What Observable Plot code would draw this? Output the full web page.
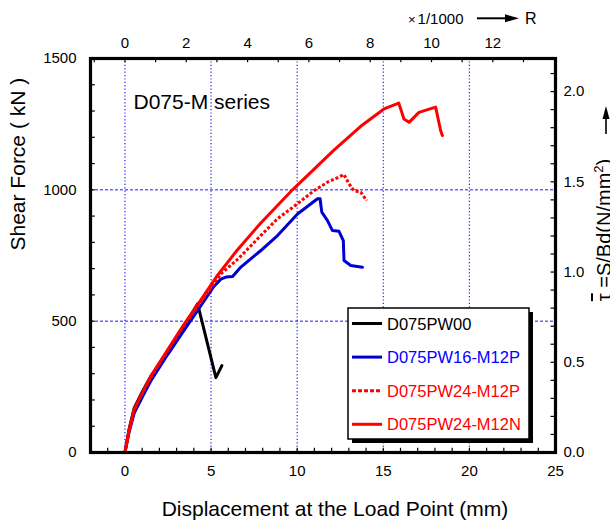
<!DOCTYPE html>
<html><head><meta charset="utf-8">
<script src="https://cdn.jsdelivr.net/npm/d3@7"></script>
<script src="https://cdn.jsdelivr.net/npm/@observablehq/plot@0.6"></script>
<style>
html,body{margin:0;padding:0;background:#fff;}
svg{font-family:"Liberation Sans",Arial,Helvetica,sans-serif;}
</style></head><body><div id="chart"></div>
<script>
// ---- data (displacement mm, shear force kN) ----
const seriesNames = ["D075PW00", "D075PW16-M12P", "D075PW24-M12P", "D075PW24-M12N"];
const seriesColors = ["#000000", "#0000d0", "#ff0000", "#ff0000"];
const seriesDash = [null, null, "3,2", null];

const pw00X = [0, 0.25, 0.54, 1.03, 1.5, 2.47, 3.4, 4.22, 5.28, 5.63];
const pw00Y = [0, 92, 170, 234, 290, 384, 476, 566, 285, 331];

const pw16X = [0, 0.25, 0.54, 1.03, 1.5, 2.47, 3.4, 4.4, 5.16, 5.57, 5.86, 6.25, 6.73, 7.89, 8.86, 10.02, 11.18, 11.33, 11.43, 11.76, 12.05, 12.43, 12.68, 12.72, 13.11, 13.79];
const pw16Y = [0, 80, 150, 214, 272, 372, 462, 558, 632, 660, 668, 670, 706, 769, 826, 908, 966, 966, 915, 883, 845, 842, 807, 731, 712, 705];

const pw24pX = [0, 0.25, 0.54, 1.03, 1.5, 2.47, 3.4, 4.4, 5.57, 6.54, 7.89, 8.86, 10.02, 10.98, 11.76, 12.72, 13.01, 13.3, 13.69, 14.04];
const pw24pY = [0, 86, 162, 227, 286, 386, 480, 572, 680, 735, 826, 890, 947, 997, 1029, 1058, 1023, 997, 991, 959];

const pw24nX = [0, 0.25, 0.54, 1.03, 1.5, 2.47, 3.4, 4.4, 5.37, 6.5, 7.89, 9.73, 12.12, 13.69, 15.04, 15.9, 16.2, 16.5, 17.07, 18.04, 18.33, 18.43];
const pw24nY = [0, 88, 165, 230, 290, 390, 485, 580, 674, 769, 874, 1000, 1150, 1242, 1308, 1330, 1270, 1257, 1295, 1315, 1226, 1207];

// ---- axis ticks ----
const xTicks = [0, 5, 10, 15, 20, 25];
const yTicks = [0, 500, 1000, 1500];
const rTicks = [0, 2, 4, 6, 8, 10, 12];     // drift R (x1/1000)
const tauTicks = [0, 0.5, 1.0, 1.5, 2.0];   // tau (N/mm2)
const xGrid = [0, 5, 10, 15, 20];
const yGrid = [500, 1000];
const mmPerR = 1.78;     // 1/1000 rad of drift in mm of displacement
const kNperTau = 687;    // 1 N/mm2 in kN

const allX = [pw00X, pw16X, pw24pX, pw24nX];
const allY = [pw00Y, pw16Y, pw24pY, pw24nY];
const rows = [];
allX.forEach((xs, s) => xs.forEach((x, i) => rows.push({series: seriesNames[s], x, y: allY[s][i]})));

const xMinor = d3.range(-1, 25, 1);
const yMinor = d3.range(100, 1500, 100);
const rMinor = d3.range(-1, 14, 1);
const tauMinor = d3.range(1, 22, 1).map(d => d / 10);

const blue = "#1a1aff";
const marks = [
  Plot.ruleX(xGrid, {x: d => d, stroke: blue, strokeWidth: 1.2, strokeDasharray: "1.2,2.2"}),
  Plot.ruleY(yGrid, {y: d => d, stroke: blue, strokeWidth: 1, strokeDasharray: "3,2"}),
  // minor ticks (inward)
  Plot.ruleX(xMinor, {x: d => d, y1: 0, y2: 16, stroke: "black", strokeWidth: 1.2}),
  Plot.ruleX(rMinor, {x: d => d * mmPerR, y1: 1500, y2: 1484, stroke: "black", strokeWidth: 1.2}),
  Plot.ruleY(yMinor, {y: d => d, x1: -2, x2: -1.72, stroke: "black", strokeWidth: 1.2}),
  Plot.ruleY(tauMinor, {y: d => d * kNperTau, x1: 25, x2: 24.74, stroke: "black", strokeWidth: 1.2}),
];
seriesNames.forEach((name, s) => {
  marks.push(Plot.line(rows.filter(r => r.series === name), {
    x: "x", y: "y", stroke: seriesColors[s], strokeWidth: 3,
    strokeDasharray: seriesDash[s] || undefined, strokeLinejoin: "round",
    strokeLinecap: seriesDash[s] ? "butt" : "round"
  }));
});
marks.push(
  Plot.frame({stroke: "black", strokeWidth: 3.2}),
  Plot.text(xTicks, {x: d => d, text: d => String(d), frameAnchor: "bottom", dy: 19, fontSize: 15, lineAnchor: "middle"}),
  Plot.text(yTicks, {y: d => d, text: d => String(d), frameAnchor: "left", dx: -14, textAnchor: "end", fontSize: 15, lineAnchor: "middle"}),
  Plot.text(rTicks, {x: d => d * mmPerR, text: d => String(d), frameAnchor: "top", dy: -15, fontSize: 15, lineAnchor: "middle"}),
  Plot.text(tauTicks, {y: d => d * kNperTau, text: d => d.toFixed(1), frameAnchor: "right", dx: 8, textAnchor: "start", fontSize: 15, lineAnchor: "middle"}),
  Plot.text(["D075-M series"], {frameAnchor: "top-left", dx: 43, dy: 44, textAnchor: "start", lineAnchor: "middle", fontSize: 21}),
  Plot.text(["Displacement at the Load Point (mm)"], {frameAnchor: "bottom", dx: 12, dy: 57, lineAnchor: "middle", fontSize: 21}),
  Plot.text(["Shear Force ( kN )"], {frameAnchor: "left", dx: -72, dy: -5, rotate: -90, lineAnchor: "middle", fontSize: 21})
);

const plot = Plot.plot({
  width: 610, height: 522,
  marginLeft: 90, marginRight: 55, marginTop: 58, marginBottom: 70,
  x: {domain: [-2, 25], axis: null},
  y: {domain: [0, 1500], axis: null},
  style: {background: "white", fontFamily: "'Liberation Sans', Arial, sans-serif", overflow: "visible"},
  marks
});
document.getElementById("chart").appendChild(plot);

const svg = d3.select(plot);
// legend
const lg = svg.append("g").attr("text-anchor", "start");
const bx = 348, by = 308, bw = 181, bh = 131;
lg.append("rect").attr("x", bx + 4).attr("y", by + 4).attr("width", bw).attr("height", bh).attr("fill", "black");
lg.append("rect").attr("x", bx).attr("y", by).attr("width", bw).attr("height", bh).attr("fill", "white").attr("stroke", "black").attr("stroke-width", 1.5);
seriesNames.forEach((name, s) => {
  const cy = by + 15.5 + s * 33.6;
  lg.append("line").attr("x1", bx + 4).attr("x2", bx + 34).attr("y1", cy).attr("y2", cy)
    .attr("stroke", seriesColors[s]).attr("stroke-width", 3)
    .attr("stroke-dasharray", seriesDash[s] ? "4,2" : null);
  lg.append("text").attr("x", bx + 39).attr("y", cy + 6).attr("font-size", 16.5)
    .attr("fill", s === 1 ? "#0000ff" : seriesColors[s]).text(name);
});
// top-right drift note
const tg = svg.append("g").attr("text-anchor", "start");
const tr = tg.append("text").attr("x", 408).attr("y", 23.5).attr("font-size", 15);
tr.append("tspan").attr("font-size", 13).text("×");
tr.append("tspan").attr("dx", 2).text("1/1000");
tg.append("line").attr("x1", 477).attr("x2", 508).attr("y1", 18.3).attr("y2", 18.3).attr("stroke", "black").attr("stroke-width", 2);
tg.append("path").attr("d", "M505,14.3L519,18.3L505,22.3Z").attr("fill", "black");
tg.append("text").attr("x", 525).attr("y", 23.8).attr("font-size", 16).text("R");
// right axis label (clipped by the page edge, as in the original)
const rl = svg.append("text").attr("transform", "translate(611,230) rotate(-90)").attr("text-anchor", "middle").attr("font-size", 20);
rl.append("tspan").style("text-decoration", "overline").text("τ");
rl.append("tspan").text(" =S/Bd(N/mm");
rl.append("tspan").attr("dy", -8).attr("font-size", 13).text("2");
rl.append("tspan").attr("dy", 8).text(")");
svg.append("line").attr("x1", 606).attr("x2", 606).attr("y1", 134).attr("y2", 115).attr("stroke", "black").attr("stroke-width", 1.6);
svg.append("path").attr("d", "M602.5,119L606,106L609.5,119Z").attr("fill", "black");
</script></body></html>
